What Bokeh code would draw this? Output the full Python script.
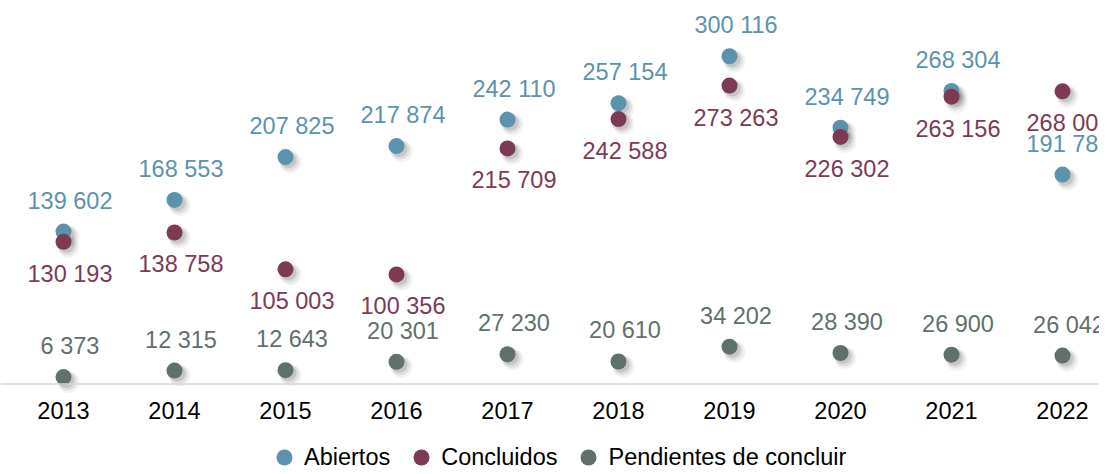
from bokeh.plotting import figure
from bokeh.layouts import column
from bokeh.models import ColumnDataSource, Range1d, FixedTicker, Legend, LegendItem, Span
from bokeh.transform import dodge
from bokeh.core.properties import value
from bokeh.embed import file_html
from bokeh.resources import INLINE

years = [2013, 2014, 2015, 2016, 2017, 2018, 2019, 2020, 2021, 2022]
abiertos = [139602, 168553, 207825, 217874, 242110, 257154, 300116, 234749, 268304, 191781]
concluidos = [130193, 138758, 105003, 100356, 215709, 242588, 273263, 226302, 263156, 268002]
pendientes = [6373, 12315, 12643, 20301, 27230, 20610, 34202, 28390, 26900, 26042]
series_names = ["Abiertos", "Concluidos", "Pendientes de concluir"]
colors = ["#5B93AD", "#7E3A54", "#5F7169"]

def fmt(v):
    return f"{v:,}".replace(",", " ")

FONT = value("Liberation Sans")
FS = "23.5px"
PX_X = 111.0          # pixels per year
PX_Y = 0.001092       # pixels per unit
W, H = 1099, 466
MAIN_H = 428
FRAME_B = 395         # frame bottom (px)
ZERO = 383.5          # y of value 0 (px)
X0 = 63               # x of first year (px)

p = figure(width=W, height=MAIN_H, output_backend="svg", toolbar_location=None,
           x_range=Range1d(years[0] - X0 / PX_X, years[0] - X0 / PX_X + W / PX_X),
           y_range=Range1d(-(FRAME_B - ZERO) / PX_Y, ZERO / PX_Y),
           min_border_left=0, min_border_right=0, min_border_top=0,
           min_border_bottom=MAIN_H - FRAME_B)
p.outline_line_color = None
p.xgrid.visible = False
p.ygrid.visible = False
p.yaxis.visible = False
p.background_fill_color = "white"
p.border_fill_color = "white"

ax = p.xaxis[0]
ax.ticker = FixedTicker(ticks=years)
ax.axis_line_color = None
ax.major_tick_line_color = None
ax.minor_tick_line_color = None
ax.major_tick_out = 0
ax.major_tick_in = 0
ax.major_label_standoff = 6
ax.major_label_text_font = "Liberation Sans"
ax.major_label_text_font_size = FS
ax.major_label_text_color = "#000000"

p.add_layout(Span(location=0, dimension="width", line_color="#d6d6d6", line_width=1.5))

for name, vals, col in zip(series_names, [abiertos, concluidos, pendientes], colors):
    src = ColumnDataSource(dict(x=years, y=vals))
    for off, size, alpha in [(5, 22, 0.05), (4, 19, 0.08), (3, 16, 0.11)]:
        p.scatter(x=dodge("x", off / PX_X), y=dodge("y", -off / PX_Y), source=src,
                  size=size, marker="circle", fill_color="#000000", fill_alpha=alpha, line_color=None)
for name, vals, col, above in zip(series_names, [abiertos, concluidos, pendientes], colors, [True, False, True]):
    src = ColumnDataSource(dict(x=years, y=vals, label=[fmt(v) for v in vals]))
    p.scatter(x="x", y="y", source=src, size=16, marker="circle", fill_color=col, line_color=None)
    p.text(x="x", y="y", text="label", source=src, text_font=FONT, text_font_size=FS,
           text_color=col, text_align="center", text_baseline="middle",
           x_offset=6.5, y_offset=(-31 if above else 32))

# legend strip under the chart
lg = figure(width=W, height=H - MAIN_H, output_backend="svg", toolbar_location=None,
            x_range=Range1d(0, 1), y_range=Range1d(0, 1),
            min_border_left=0, min_border_right=0, min_border_top=0, min_border_bottom=0)
lg.outline_line_color = None
lg.xaxis.visible = False
lg.yaxis.visible = False
lg.xgrid.visible = False
lg.ygrid.visible = False
items = []
for name, col in zip(series_names, colors):
    r = lg.scatter(x=[-1], y=[-1], size=16, marker="circle", fill_color=col, line_color=None)
    items.append(LegendItem(label=name, renderers=[r]))
legend = Legend(items=items, orientation="horizontal", location=(264, -11),
                glyph_width=40, glyph_height=40, label_standoff=0, spacing=11,
                padding=0, margin=0, background_fill_alpha=0, border_line_color=None,
                label_text_font="Liberation Sans", label_text_font_size=FS,
                label_text_color="#000000")
lg.add_layout(legend, "center")

open("out.html", "w").write(file_html(column(p, lg, spacing=0), INLINE))
